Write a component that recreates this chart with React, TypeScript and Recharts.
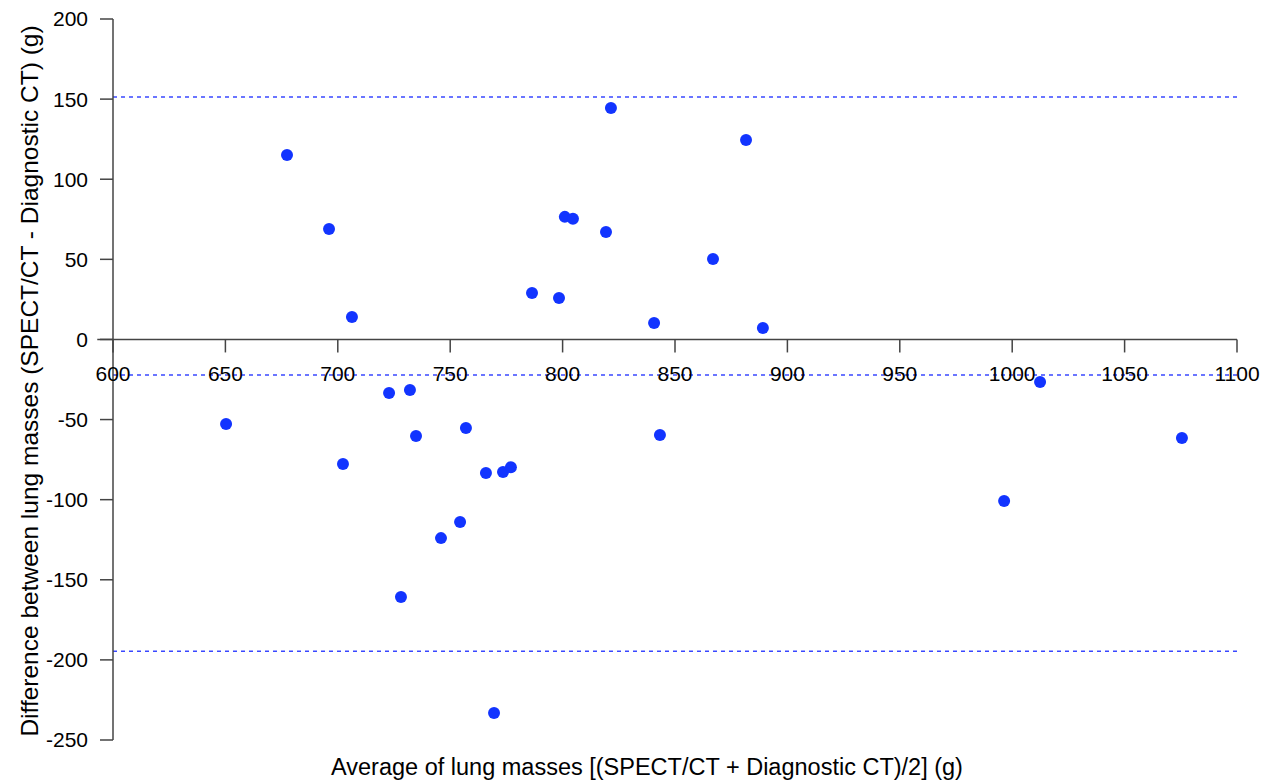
import React from "react";
import {
  ScatterChart,
  Scatter,
  XAxis,
  YAxis,
  ReferenceLine,
} from "recharts";

// Bland-Altman: SPECT/CT vs diagnostic CT lung masses
const avgMass = [
  650.3, 677.4, 696.1, 706.3, 702.3, 722.8, 732.1, 734.8, 728.1, 745.9,
  754.4, 757.0, 765.9, 769.5, 773.5, 777.0, 786.4, 798.4, 801.0, 804.6,
  819.3, 821.5, 840.7, 843.3, 866.9, 881.6, 889.1, 996.4, 1012.4, 1075.5,
];
const diffMass = [
  -52.8, 115.1, 68.9, 14.0, -77.8, -33.4, -31.6, -60.3, -160.8, -124.0,
  -114.0, -55.3, -83.4, -233.2, -82.8, -79.7, 29.0, 25.9, 76.5, 75.3,
  67.1, 144.5, 10.2, -59.6, 50.2, 124.5, 7.1, -100.9, -26.6, -61.5,
];

const upperLoA = 151.3;
const meanDiff = -22.2;
const lowerLoA = -194.6;

const xTicks = [600, 650, 700, 750, 800, 850, 900, 950, 1000, 1050, 1100];
const yTicks = [-250, -200, -150, -100, -50, 0, 50, 100, 150, 200];

const data = avgMass.map((x, i) => ({ x, y: diffMass[i] }));

const W = 1269;
const H = 784;
const PLOT_TOP = 19;
const PLOT_H = 721;
const Y_MIN = -250;
const Y_MAX = 200;
// pixel row of y = 0, where the x axis crosses
const ZERO_Y = PLOT_TOP + ((Y_MAX - 0) / (Y_MAX - Y_MIN)) * PLOT_H;

const FONT = "'Liberation Sans', Arial, sans-serif";
const AXIS = "#444";
const BLUE = "#1234ff";
const DASH = "#3a48ff";

function XTick(props: any) {
  const { x, payload } = props;
  return (
    <g>
      <line x1={x} x2={x} y1={ZERO_Y} y2={ZERO_Y + 13} stroke={AXIS} strokeWidth={1.5} />
      <text
        x={x}
        y={ZERO_Y + 42}
        textAnchor="middle"
        fontSize={21}
        fontFamily={FONT}
        fill="#000"
      >
        {payload.value}
      </text>
    </g>
  );
}

function YLabel() {
  return (
    <text
      x={29}
      y={381}
      transform="rotate(-90 29 381)"
      textAnchor="middle"
      dominantBaseline="central"
      fontSize={24.5}
      fontFamily={FONT}
      fill="#000"
    >
      Difference between lung masses (SPECT/CT - Diagnostic CT) (g)
    </text>
  );
}

function XLabel() {
  return (
    <text
      x={647}
      y={775}
      textAnchor="middle"
      fontSize={23.5}
      fontFamily={FONT}
      fill="#000"
    >
      Average of lung masses [(SPECT/CT + Diagnostic CT)/2] (g)
    </text>
  );
}

function Dot(props: any) {
  return <circle cx={props.cx} cy={props.cy} r={6} fill={BLUE} />;
}

export default function App() {
  return (
    <div style={{ position: "absolute", left: 0, top: 0, width: W, height: H, background: "#fff" }}>
      <ScatterChart
        width={W}
        height={H}
        margin={{ top: PLOT_TOP, right: 32, bottom: 0, left: 0 }}
      >
        <XAxis
          type="number"
          dataKey="x"
          domain={[600, 1100]}
          ticks={xTicks}
          interval={0}
          height={44}
          axisLine={false}
          tickLine={false}
          tick={<XTick />}
          label={<XLabel />}
        />
        <YAxis
          type="number"
          dataKey="y"
          domain={[Y_MIN, Y_MAX]}
          ticks={yTicks}
          interval={0}
          width={113}
          axisLine={{ stroke: AXIS, strokeWidth: 1.5 }}
          tickLine={{ stroke: AXIS, strokeWidth: 1.5 }}
          tickSize={13}
          tickMargin={12}
          tick={{ fontSize: 21, fill: "#000", fontFamily: FONT }}
          label={<YLabel />}
        />
        <ReferenceLine
          segment={[{ x: 593, y: 0 }, { x: 1100, y: 0 }]}
          ifOverflow="visible"
          stroke={AXIS}
          strokeWidth={1.5}
        />
        <ReferenceLine y={upperLoA} stroke={DASH} strokeWidth={1.4} strokeDasharray="4 4" />
        <ReferenceLine y={meanDiff} stroke={DASH} strokeWidth={1.4} strokeDasharray="4 4" />
        <ReferenceLine y={lowerLoA} stroke={DASH} strokeWidth={1.4} strokeDasharray="4 4" />
        <Scatter data={data} shape={<Dot />} isAnimationActive={false} />
      </ScatterChart>
    </div>
  );
}
